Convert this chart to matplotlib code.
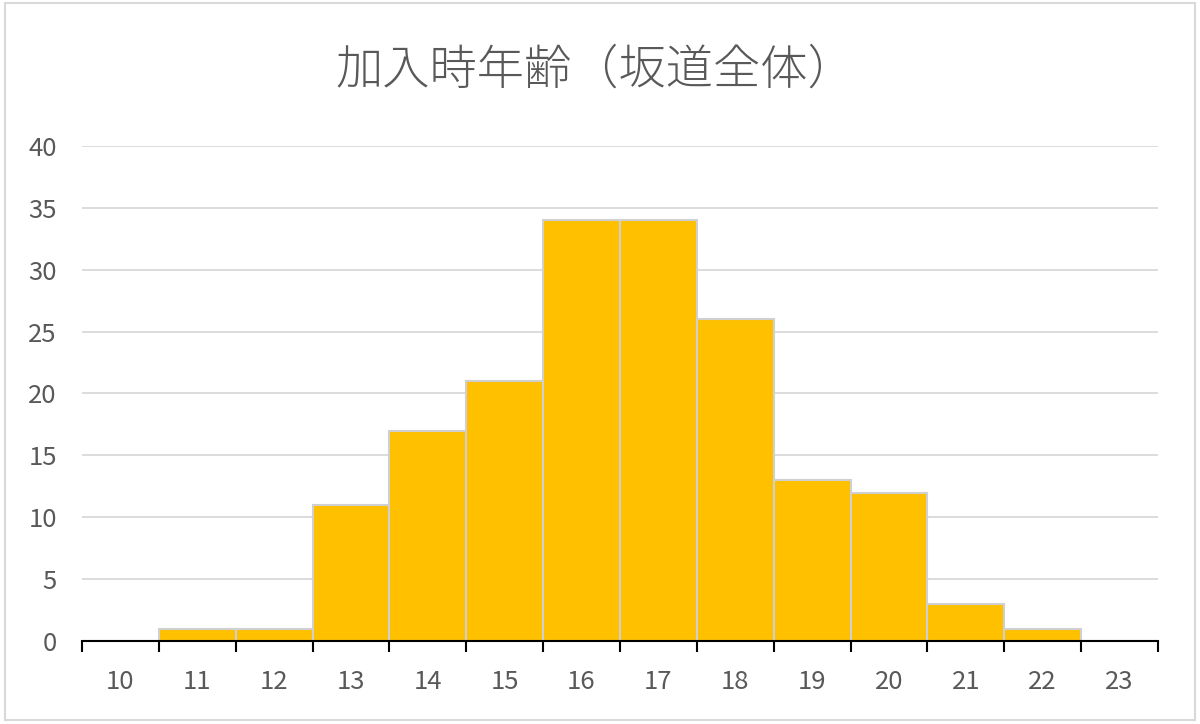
import matplotlib
matplotlib.use("Agg")
import matplotlib.pyplot as plt
from matplotlib.patches import Rectangle

plt.rcParams['font.family'] = ['Noto Sans CJK JP', 'DejaVu Sans']

ages = [10, 11, 12, 13, 14, 15, 16, 17, 18, 19, 20, 21, 22, 23]
counts = [0, 1, 1, 11, 17, 21, 34, 34, 26, 13, 12, 3, 1, 0]
title = "加入時年齢（坂道全体）"
yticks = [0, 5, 10, 15, 20, 25, 30, 35, 40]

fig = plt.figure(figsize=(12, 7.24), dpi=100)
ax = fig.add_axes([0.0683, 0.1146, 0.8967, 0.6838])

x = list(range(len(ages)))
ax.bar(x, counts, width=1.0, color="#FFC000", edgecolor="#D0D0D0", linewidth=1.5, zorder=3)

ax.set_xlim(-0.5, len(ages) - 0.5)
ax.set_ylim(0, 40)
ax.set_yticks(yticks)
ax.set_yticklabels([str(v) for v in yticks])
ax.grid(axis='y', color="#D9D9D9", linewidth=1.3, zorder=0)
ax.set_axisbelow(True)

for s in ['top', 'right', 'left']:
    ax.spines[s].set_visible(False)
ax.spines['bottom'].set_color("black")
ax.spines['bottom'].set_linewidth(1.5)
ax.spines['bottom'].set_zorder(5)

ax.set_xticks(x)
ax.set_xticklabels([str(a) for a in ages])
ax.tick_params(axis='x', which='major', length=0, pad=20, labelsize=18.5, labelcolor="#595959")
ax.set_xticks([i - 0.5 for i in range(len(ages) + 1)], minor=True)
ax.tick_params(axis='x', which='minor', length=8, width=1.5, color="black", direction='out')
ax.tick_params(axis='y', length=0, pad=18, labelsize=18.5, labelcolor="#595959")

fig.text(0.496, 0.903, title, ha='center', va='center', fontsize=34, color="#595959",
         fontweight='light')

fig.patches.append(Rectangle((0.004, 0.006), 0.992, 0.99, transform=fig.transFigure,
                             fill=False, edgecolor="#D9D9D9", linewidth=1.5))

fig.savefig("out.png", dpi=100, facecolor="white")
